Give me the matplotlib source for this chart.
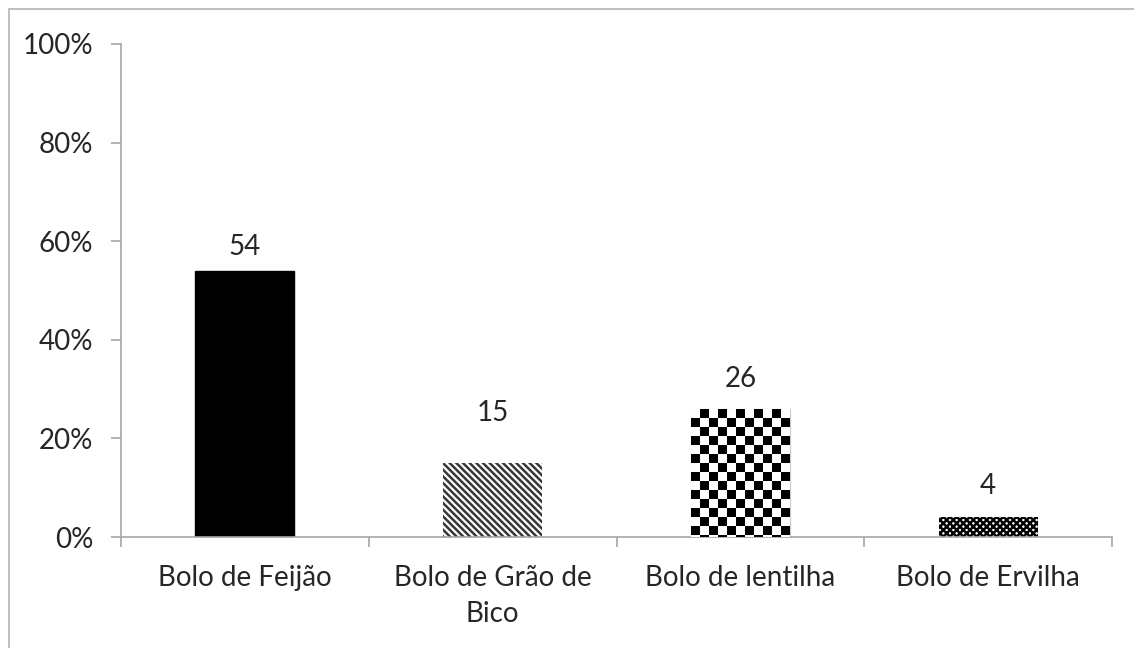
import matplotlib.pyplot as plt
import numpy as np
from matplotlib.patches import Rectangle
from matplotlib.ticker import PercentFormatter

categories = ["Bolo de Feijão", "Bolo de Grão de\nBico", "Bolo de lentilha", "Bolo de Ervilha"]
values = [54, 15, 26, 4]
value_labels = ["54", "15", "26", "4"]
y_ticks = [0, 20, 40, 60, 80, 100]

plt.rcParams["font.family"] = ["Lato", "DejaVu Sans"]
plt.rcParams["hatch.linewidth"] = 1.8

axis_grey = "#a6a6a6"
text_col = "#262626"
fs = 20

fig = plt.figure(figsize=(11.34, 6.48), dpi=100)
fig.patches.append(Rectangle((9 / 1134, -0.05), 1.2, 1 - 9 / 648 + 0.05, transform=fig.transFigure,
                             fill=False, edgecolor="#c0c0c0", linewidth=1.5))
ax = fig.add_axes([121 / 1134, 1 - 537 / 648, (1112 - 121) / 1134, (537 - 44) / 648])

x = np.arange(len(categories))
bars = ax.bar(x, values, width=0.4, zorder=2)

# plain black
bars[0].set_facecolor("black")
bars[0].set_edgecolor("black")
# diagonal stripes
bars[1].set_facecolor("white")
bars[1].set_edgecolor("#383838")
bars[1].set_linewidth(0)
bars[1].set_hatch("\\" * 5)
# checkerboard, drawn as a mesh clipped to the bar
b = bars[2]
b.set_facecolor("white")
b.set_edgecolor("#c8c8c8")
b.set_linewidth(0.8)
bx, bw, bh = b.get_x(), b.get_width(), b.get_height()
ncol = 11
px_per_x = 991 / 4
px_per_y = 493 / 100
cell_h = (bw / ncol) * px_per_x / px_per_y
nrow = int(np.ceil(bh / cell_h))
xe = np.linspace(bx, bx + bw, ncol + 1)
ye = bh - cell_h * np.arange(nrow + 1)[::-1]
checker = ((np.add.outer(np.arange(nrow), np.arange(ncol)) + nrow) % 2).astype(float)
mesh = ax.pcolormesh(xe, ye, checker, cmap="gray", vmin=0, vmax=1, zorder=3,
                     shading="flat", antialiased=False, linewidth=0)
mesh.set_clip_path(b)
# dense mesh
bars[3].set_facecolor("white")
bars[3].set_edgecolor("black")
bars[3].set_linewidth(0)
bars[3].set_hatch("xxxxx")

ax.set_xlim(-0.5, len(categories) - 0.5)
ax.set_ylim(0, 100)
ax.set_yticks(y_ticks)
ax.yaxis.set_major_formatter(PercentFormatter(decimals=0))
ax.set_xticks(x)
ax.set_xticklabels(categories, fontsize=fs, color=text_col, linespacing=1.5)
ax.set_xticks(np.arange(len(categories) + 1) - 0.5, minor=True)
ax.tick_params(axis="x", which="major", length=0, pad=20)
ax.tick_params(axis="x", which="minor", length=7, width=1.2, color=axis_grey, direction="out")
ax.tick_params(axis="y", length=7, width=1.2, color=axis_grey, labelsize=fs,
               labelcolor=text_col, pad=13)

for s in ["top", "right"]:
    ax.spines[s].set_visible(False)
for s in ["left", "bottom"]:
    ax.spines[s].set_color(axis_grey)
    ax.spines[s].set_linewidth(1.2)

# data labels sit at slightly different heights in the original
label_offsets = [8, 27, 12, 13]
for xi, v, lab, off in zip(x, values, value_labels, label_offsets):
    ax.annotate(lab, (xi, v), xytext=(0, off), textcoords="offset points",
                ha="center", va="bottom", fontsize=fs, color=text_col)

fig.savefig("out.png", dpi=100)
